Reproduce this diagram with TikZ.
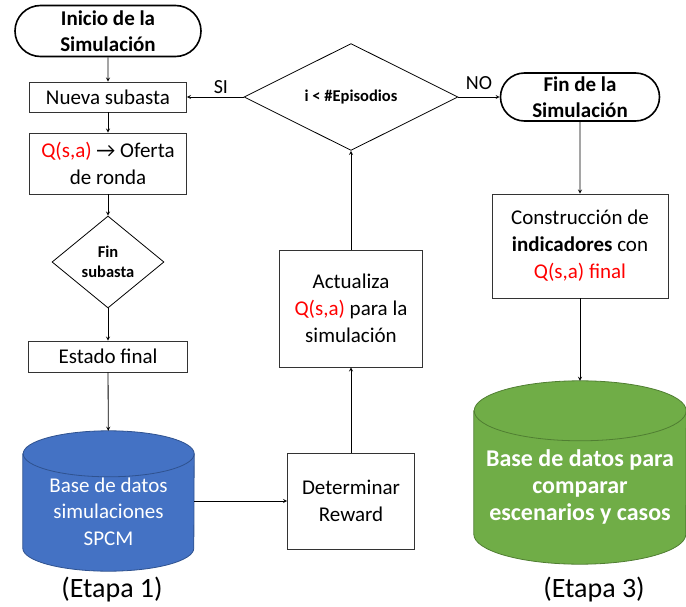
\documentclass[tikz,border=0pt]{standalone}
\usepackage{fontspec}
\setmainfont{Carlito}
\usetikzlibrary{shapes.geometric, shapes.misc, arrows, positioning, backgrounds}
\definecolor{azulbd}{HTML}{4472C4}
\definecolor{azulborde}{HTML}{2F528F}
\definecolor{verdebd}{HTML}{70AD47}
\definecolor{verdeborde}{HTML}{507E32}
\definecolor{rojoq}{HTML}{FF0000}
\tikzset{
  terminal/.style={rounded rectangle, draw=black, line width=1.6pt, inner sep=0pt,
                   font=\fontsize{21}{26}\selectfont\bfseries, align=center},
  proceso/.style={rectangle, draw=black!80, line width=0.8pt, inner sep=2pt,
                  font=\fontsize{21}{27}\selectfont, align=center},
  decision/.style={diamond, draw=black, line width=0.8pt, inner sep=0pt,
                   font=\fontsize{16.5}{20}\selectfont\bfseries, align=center},
  basedatos/.style={rectangle, inner sep=0pt, text=white, align=center},
  cilindro/.style={line width=0.8pt},
  etiqueta/.style={font=\fontsize{20}{24}\selectfont},
  etapa/.style={font=\fontsize{28}{32}\selectfont},
  arrow/.style={line width=0.8pt,->,>=stealth,color=black}
}

\begin{document}
\begin{tikzpicture}[x=1pt,y=-1pt]
  \useasboundingbox (0,0) rectangle (686,607);
  % columna izquierda: ciclo de subastas
  \node (inicio) [terminal, minimum width=186pt, minimum height=51pt] at (108,31) {Inicio de la\\Simulación};
  \node (nueva) [proceso, minimum width=157pt, minimum height=30pt] at (108,97) {Nueva subasta};
  \node (oferta) [proceso, minimum width=157pt, minimum height=61pt] at (108,163.5) {\textcolor{rojoq}{Q(s,a)} → Oferta\\de ronda};
  \node (finsub) [decision, minimum width=112pt, minimum height=92pt] at (108,262) {Fin\\subasta};
  \node (estado) [proceso, minimum width=159pt, minimum height=31pt] at (108,356.5) {Estado final};
  \node (bdsim) [basedatos, minimum width=171pt, minimum height=140pt,
                 font=\fontsize{21}{26.5}\selectfont] at (108.5,501)
        {\begin{tabular}{@{}c@{}}\\[-1.5pt]Base de datos\\simulaciones\\SPCM\end{tabular}};
  \node (etapa1) [etapa] at (112,590) {(Etapa 1)};
  % columna central: reward y episodios
  \node (determinar) [proceso, minimum width=127pt, minimum height=96pt] at (351,501) {Determinar\\Reward};
  \node (actualiza) [proceso, minimum width=143pt, minimum height=117pt] at (351,308.5) {Actualiza\\\textcolor{rojoq}{Q(s,a)} para la\\simulación};
  \node (episodios) [decision, minimum width=214pt, minimum height=71pt] at (351,97) {i < \#Episodios};
  % columna derecha: cierre
  \node (fin) [terminal, minimum width=159pt, minimum height=48pt] at (580,97) {Fin de la\\Simulación};
  \node (construccion) [proceso, minimum width=176pt, minimum height=104pt] at (580,246) {Construcción de\\\textbf{indicadores} con\\\textcolor{rojoq}{Q(s,a) final}};
  \node (bdcomp) [basedatos, minimum width=212pt, minimum height=183pt,
                  font=\fontsize{24}{27}\selectfont\bfseries] at (580,472.5)
        {\begin{tabular}{@{}c@{}}\\[5pt]Base de datos para\\comparar\\escenarios y casos\end{tabular}};
  \node (etapa3) [etapa] at (594,590) {(Etapa 3)};

  % cilindros de las bases de datos
  \begin{scope}[on background layer]
    \draw [cilindro, draw=azulborde, fill=azulbd] ([yshift=-23pt]bdsim.north west) -- ([yshift=23pt]bdsim.south west)
      arc [start angle=180, end angle=360, x radius=85.5pt, y radius=23pt] -- ([yshift=-23pt]bdsim.north east)
      arc [start angle=0, end angle=180, x radius=85.5pt, y radius=23pt] -- cycle;
    \draw [cilindro, draw=azulborde] ([yshift=-23pt]bdsim.north east)
      arc [start angle=0, end angle=-180, x radius=85.5pt, y radius=23pt];
    \draw [cilindro, draw=verdeborde, fill=verdebd] ([yshift=-30pt]bdcomp.north west) -- ([yshift=30pt]bdcomp.south west)
      arc [start angle=180, end angle=360, x radius=106pt, y radius=30pt] -- ([yshift=-30pt]bdcomp.north east)
      arc [start angle=0, end angle=180, x radius=106pt, y radius=30pt] -- cycle;
    \draw [cilindro, draw=verdeborde] ([yshift=-30pt]bdcomp.north east)
      arc [start angle=0, end angle=-180, x radius=106pt, y radius=30pt];
  \end{scope}

  \draw [arrow] (inicio) -- (nueva);
  \draw [arrow] (nueva) -- (oferta);
  \draw [arrow] (oferta) -- (finsub);
  \draw [arrow] (finsub) -- (estado);
  \draw [arrow] (estado) -- (bdsim);
  \draw [arrow] (bdsim) -- (determinar);
  \draw [arrow] (determinar) -- (actualiza);
  \draw [arrow] (actualiza) -- (episodios);
  \draw [arrow] (episodios.west) -- node [etiqueta, above, pos=0.4] {SI} (nueva.east);
  \draw [arrow] (episodios.east) -- node [etiqueta, above=4pt] {NO} (fin.west);
  \draw [arrow] (fin) -- (construccion);
  \draw [arrow] (construccion) -- (bdcomp);
\end{tikzpicture}
\end{document}
